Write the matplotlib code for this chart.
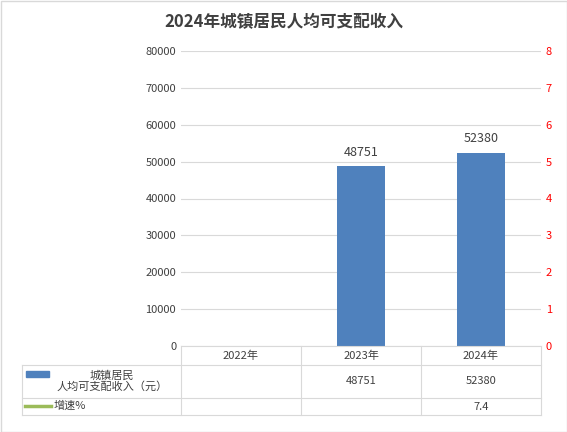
import matplotlib
matplotlib.use("Agg")
import matplotlib.pyplot as plt
from matplotlib.lines import Line2D
from matplotlib.patches import Rectangle

plt.rcParams['font.family'] = ['Noto Sans CJK SC', 'DejaVu Sans']

years = ["2022年", "2023年", "2024年"]
income = [None, 48751, 52380]
growth = [None, None, 7.4]
series_income = "城镇居民\n人均可支配收入（元）"
series_growth = "增速%"
title = "2024年城镇居民人均可支配收入"

W, H = 567, 432
fig = plt.figure(figsize=(W/100, H/100), dpi=100)
fig.patch.set_facecolor("white")
fig.add_artist(Rectangle((0.5/W, 0.5/H), 1-1/W, 1-1/H, transform=fig.transFigure,
                         fill=False, edgecolor="#d9d9d9", lw=1))

L, R, T, B = 181, 541, 51, 346
ax = fig.add_axes([L/W, 1-B/H, (R-L)/W, (B-T)/H])
x = range(len(years))
vals = [v if v is not None else 0 for v in income]
bars = ax.bar(x, vals, width=0.4, color="#4f81bd")
for xi, v in zip(x, income):
    if v is not None:
        ax.text(xi, v + 2000, str(v), ha="center", va="bottom", fontsize=9, color="#404040")
ax.set_xlim(-0.5, 2.5)
ax.set_ylim(0, 80000)
ax.set_yticks(range(0, 80001, 10000))
ax.tick_params(axis="y", labelsize=8, colors="#404040", length=0)
ax.set_xticks([])
ax.grid(axis="y", color="#d9d9d9", lw=0.8)
ax.set_axisbelow(True)
for s in ["top", "right", "left"]:
    ax.spines[s].set_visible(False)
ax.spines["bottom"].set_color("#d9d9d9")

ax2 = ax.twinx()
gx = [i for i, g in enumerate(growth) if g is not None]
gy = [g for g in growth if g is not None]
ax2.plot(gx, gy, color="#9bbb59", lw=2)
ax2.set_ylim(0, 8)
ax2.set_yticks(range(0, 9))
ax2.tick_params(axis="y", labelsize=8, colors="red", length=0)
for s in ["top", "right", "left", "bottom"]:
    ax2.spines[s].set_visible(False)

fig.text(0.5, 1-22/H, title, ha="center", va="center", fontsize=12, fontweight="bold", color="#404040")

# table
line_c = "#d9d9d9"
rows = [346, 365, 398, 415]
colx = [22, 181, 301, 421, 541]
def hl(y, x0, x1):
    fig.add_artist(Line2D([x0/W, x1/W], [1-y/H, 1-y/H], color=line_c, lw=0.8))
def vl(xp, y0, y1):
    fig.add_artist(Line2D([xp/W, xp/W], [1-y0/H, 1-y1/H], color=line_c, lw=0.8))
hl(365, 22, 541); hl(398, 22, 541); hl(415, 22, 541)
vl(22, 365, 415)
for cx in colx[1:]:
    vl(cx, 346, 415)
for i, yl in enumerate(years):
    fig.text((colx[i+1]+colx[i+2])/2/W, 1-355.5/H, yl, ha="center", va="center", fontsize=8, color="#404040")
for i, v in enumerate(income):
    if v is not None:
        fig.text((colx[i+1]+colx[i+2])/2/W, 1-381.5/H, str(v), ha="center", va="center", fontsize=8, color="#404040")
for i, g in enumerate(growth):
    if g is not None:
        fig.text((colx[i+1]+colx[i+2])/2/W, 1-406.5/H, str(g), ha="center", va="center", fontsize=8, color="#404040")
fig.add_artist(Rectangle((26/W, 1-377/H), 23/W, 6/H, transform=fig.transFigure, color="#4f81bd"))
fig.text(112/W, 1-381/H, series_income, ha="center", va="center", fontsize=8, color="#404040", linespacing=1.0)
fig.add_artist(Line2D([25/W, 51/W], [1-406/H, 1-406/H], color="#9bbb59", lw=2.5))
fig.text(54/W, 1-406/H, series_growth, ha="left", va="center", fontsize=8, color="#404040")

fig.savefig("out.png", dpi=100)
